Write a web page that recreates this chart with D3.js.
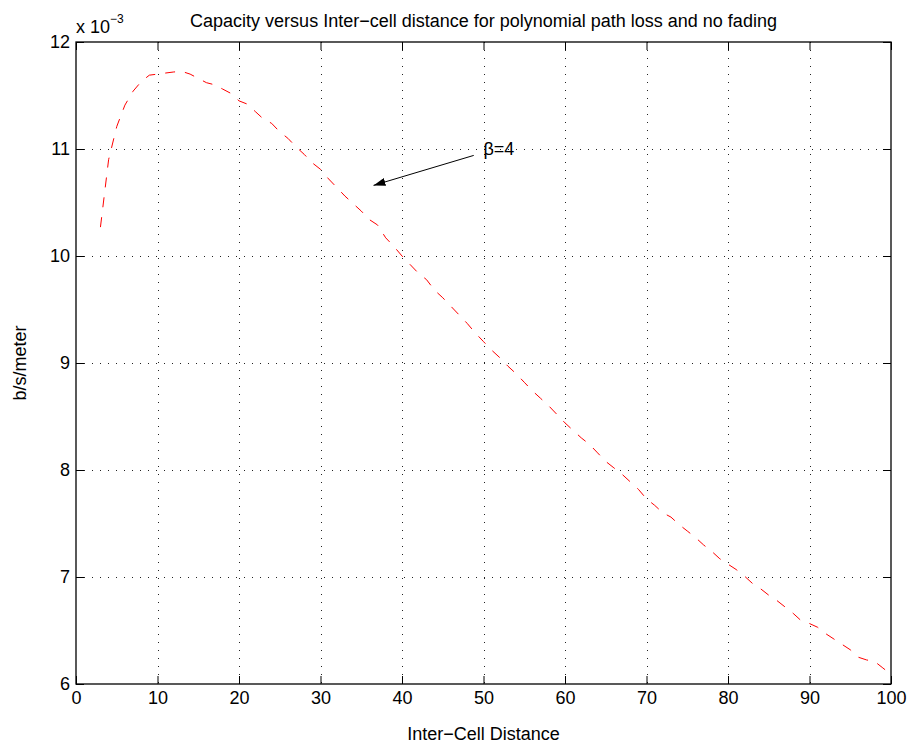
<!DOCTYPE html>
<html>
<head>
<meta charset="utf-8">
<script src="https://cdn.jsdelivr.net/npm/d3@7"></script>
<style>
  body { margin: 0; background: #fff; }
  svg text { font-family: 'Liberation Sans', Arial, Helvetica, sans-serif; fill: #000; }
</style>
</head>
<body>
<div id="chart"></div>
<script>
// capacity (b/s/meter, in units of 1e-3) against inter-cell distance
const distance = d3.range(3, 101)
const capacity = [
  10.27, 10.90, 11.21, 11.41, 11.54, 11.63, 11.69, 11.70, 11.71, 11.72,
  11.725, 11.70, 11.66, 11.62, 11.60, 11.56, 11.52, 11.45, 11.42, 11.35,
  11.28, 11.24, 11.16, 11.10, 11.02, 10.95, 10.87, 10.81, 10.72, 10.64,
  10.56, 10.49, 10.42, 10.34, 10.29, 10.17, 10.09, 10.00, 9.92, 9.84,
  9.78, 9.68, 9.61, 9.53, 9.45, 9.37, 9.28, 9.20, 9.12, 9.05,
  8.97, 8.90, 8.82, 8.74, 8.67, 8.60, 8.52, 8.44, 8.37, 8.30,
  8.24, 8.16, 8.08, 8.02, 7.96, 7.89, 7.82, 7.73, 7.67, 7.60,
  7.56, 7.49, 7.43, 7.37, 7.30, 7.24, 7.17, 7.12, 7.07, 7.01,
  6.94, 6.89, 6.83, 6.78, 6.72, 6.66, 6.59, 6.565, 6.53, 6.47,
  6.42, 6.37, 6.32, 6.25, 6.225, 6.21, 6.15, 6.09
]
const xTicks = [0, 10, 20, 30, 40, 50, 60, 70, 80, 90, 100]
const yTicks = [6, 7, 8, 9, 10, 11, 12]

// annotation: label position and arrow (tail -> head) in data units
const noteLabel = { x: 50, y: 11, text: 'β=4' }
const noteArrow = [[48.8, 10.94], [36.5, 10.66]]

const margin = { top: 42, right: 19, bottom: 63, left: 76 }
const width = 910 - margin.left - margin.right
const height = 747 - margin.top - margin.bottom

const svg = d3
  .select('#chart')
  .append('svg')
  .attr('width', width + margin.left + margin.right)
  .attr('height', height + margin.top + margin.bottom)

svg.append('defs')
  .append('marker')
  .attr('id', 'head')
  .attr('viewBox', '0 0 12 8')
  .attr('refX', 12)
  .attr('refY', 4)
  .attr('markerWidth', 12)
  .attr('markerHeight', 8)
  .attr('markerUnits', 'userSpaceOnUse')
  .attr('orient', 'auto')
  .append('path')
  .attr('d', 'M0,0L12,4L0,8Z')
  .attr('fill', '#000')

const g = svg.append('g')
  .attr('transform', 'translate(' + margin.left + ',' + margin.top + ')')

const x = d3.scaleLinear().domain([0, 100]).range([0, width])
const y = d3.scaleLinear().domain([6, 12]).range([height, 0])

// dotted grid
g.selectAll('.vgrid')
  .data(xTicks.slice(1, -1))
  .enter()
  .append('line')
  .attr('class', 'vgrid')
  .attr('x1', d => Math.round(x(d)) + 0.5)
  .attr('x2', d => Math.round(x(d)) + 0.5)
  .attr('y1', 0)
  .attr('y2', height)
  .attr('stroke', '#222')
  .attr('stroke-width', 1)
  .attr('stroke-dasharray', '1,7')

g.selectAll('.hgrid')
  .data(yTicks.slice(1, -1))
  .enter()
  .append('line')
  .attr('class', 'hgrid')
  .attr('x1', 0)
  .attr('x2', width)
  .attr('y1', d => Math.round(y(d)) + 0.5)
  .attr('y2', d => Math.round(y(d)) + 0.5)
  .attr('stroke', '#222')
  .attr('stroke-width', 1)
  .attr('stroke-dasharray', '1,7')

// axes, ticks pointing inwards on all four sides
const styleAxis = sel => {
  sel.select('.domain').remove()
  sel.selectAll('.tick line').attr('stroke', '#000')
  sel.selectAll('text')
    .attr('font-size', 18)
    .attr('font-family', "'Liberation Sans', Arial, sans-serif")
}

g.append('g')
  .attr('transform', 'translate(0,' + height + ')')
  .call(d3.axisBottom(x).tickValues(xTicks).tickSize(-8).tickPadding(7))
  .call(styleAxis)

g.append('g')
  .call(d3.axisTop(x).tickValues(xTicks).tickSize(-8).tickFormat(''))
  .call(styleAxis)

g.append('g')
  .call(d3.axisLeft(y).tickValues(yTicks).tickSize(-8).tickPadding(6).tickFormat(d3.format('d')))
  .call(styleAxis)

g.append('g')
  .attr('transform', 'translate(' + width + ',0)')
  .call(d3.axisRight(y).tickValues(yTicks).tickSize(-8).tickFormat(''))
  .call(styleAxis)

g.append('rect')
  .attr('x', 0)
  .attr('y', 0)
  .attr('width', width)
  .attr('height', height)
  .attr('fill', 'none')
  .attr('stroke', '#000')
  .attr('stroke-width', 1.3)

// the curve
const line = d3.line()
  .x((d, i) => x(distance[i]))
  .y(d => y(d))

g.append('path')
  .datum(capacity)
  .attr('d', line)
  .attr('fill', 'none')
  .attr('stroke', '#ff0000')
  .attr('stroke-width', 1)
  .attr('stroke-dasharray', '10,10')

// annotation
g.append('line')
  .attr('x1', x(noteArrow[0][0]))
  .attr('y1', y(noteArrow[0][1]))
  .attr('x2', x(noteArrow[1][0]))
  .attr('y2', y(noteArrow[1][1]))
  .attr('stroke', '#000')
  .attr('stroke-width', 1)
  .attr('marker-end', 'url(#head)')

g.append('text')
  .attr('x', x(noteLabel.x))
  .attr('y', y(noteLabel.y))
  .attr('dy', '0.35em')
  .attr('font-size', 18)
  .text(noteLabel.text)

// exponent
const expo = g.append('text')
  .attr('x', 0)
  .attr('y', -9)
  .attr('font-size', 18)
expo.append('tspan').text('x 10')
expo.append('tspan')
  .attr('font-size', 12)
  .attr('dy', -10)
  .text('−3')

// titles
g.append('text')
  .attr('x', width / 2)
  .attr('y', -15)
  .attr('text-anchor', 'middle')
  .attr('font-size', 18)
  .text('Capacity versus Inter−cell distance for polynomial path loss and no fading')

g.append('text')
  .attr('x', width / 2)
  .attr('y', height + 56)
  .attr('text-anchor', 'middle')
  .attr('font-size', 18)
  .text('Inter−Cell Distance')

g.append('text')
  .attr('transform', 'translate(' + (26 - margin.left) + ',' + (height / 2) + ')rotate(-90)')
  .attr('text-anchor', 'middle')
  .attr('font-size', 18)
  .text('b/s/meter')
</script>
</body>
</html>
